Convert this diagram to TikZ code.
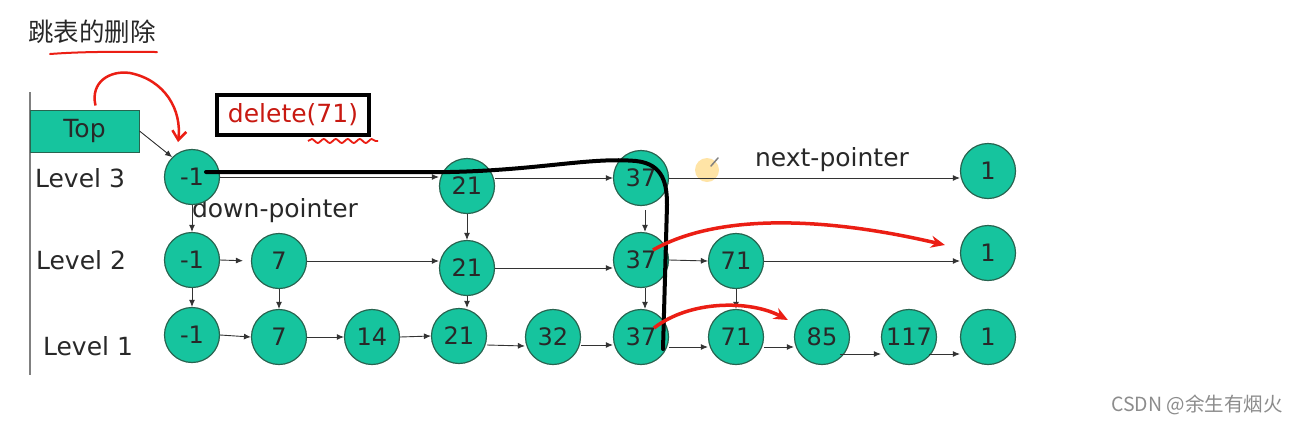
\documentclass[tikz,border=0pt]{standalone}
\usepackage{fontspec}
\setmainfont{DejaVu Sans}
\newfontfamily\cjk{Noto Sans CJK SC}
\usetikzlibrary{arrows.meta,calc,decorations.pathmorphing}
\definecolor{nodegreen}{RGB}{22,196,158}
\definecolor{nodeborder}{RGB}{40,100,80}
\definecolor{redpen}{RGB}{235,30,20}
\definecolor{txtgray}{RGB}{40,40,40}
\tikzset{
  sknode/.style={circle,draw=nodeborder,line width=1.2pt,fill=nodegreen,minimum size=55pt,inner sep=0pt,
    font=\fontsize{24}{28}\selectfont,text=txtgray},
  arr/.style={-{Latex[length=7pt,width=6pt]},line width=0.9pt,draw=black!80},
  lvl/.style={font=\fontsize{25}{29}\selectfont,text=txtgray},
  redarrow/.style={line width=3.5pt,draw=redpen,-{Stealth[length=14pt,width=12pt]}},
  blackpath/.style={line width=4pt,draw=black,line cap=round,line join=round},
}
\begin{document}
\begin{tikzpicture}[x=1pt,y=-1pt]
\useasboundingbox (0,0) rectangle (1299,424);
\fill[white] (0,0) rectangle (1299,424);
% title
\node[font=\cjk\fontsize{25.5}{28}\selectfont,text=txtgray,anchor=center] (title) at (92,32) {跳表的删除};
\draw[redpen,line width=2pt,line cap=round] (50,54) .. controls (90,51) and (130,52) .. (157,52);
% vertical axis line
\draw[gray,line width=1.5pt] (30,92) -- (30,375);
% Top box
\node[draw=nodeborder,line width=1pt,fill=nodegreen,minimum width=109pt,minimum height=42pt,inner sep=0pt,
  font=\fontsize{25}{29}\selectfont,text=txtgray] (top) at (84.5,131) {Top};
% delete box
\node[draw=black,line width=4pt,minimum width=152pt,minimum height=40pt,inner sep=0pt,
  font=\fontsize{25}{29}\selectfont,text=redpen!85!black] (del) at (293,115) {delete(71)};
\draw[redpen,line width=1.8pt,decorate,decoration={snake,amplitude=2pt,segment length=12pt}] (308,141) -- (378,141);
% level labels
\node[lvl] (lv3) at (80,178) {Level 3};
\node[lvl] (lv2) at (81,260) {Level 2};
\node[lvl] (lv1) at (88,346) {Level 1};
% pointer labels
\node[lvl] (dp) at (275,211) {down-pointer};
\node[lvl] (np) at (832,160) {next-pointer};
% pencil marker
\fill[orange!60!yellow,opacity=0.35] (707,170) circle (12);
\draw[gray,line width=1.5pt,line cap=round] (711,166) -- (718,158);
% Level 3
\node[sknode] (n3a) at (192,177) {-1};
\node[sknode] (n3b) at (467,186) {21};
\node[sknode] (n3c) at (641,178) {37};
\node[sknode] (n3d) at (988,171) {1};
% Level 2
\node[sknode] (n2a) at (192,260) {-1};
\node[sknode] (n2b) at (279,261) {7};
\node[sknode] (n2c) at (467,268) {21};
\node[sknode] (n2d) at (641,260) {37};
\node[sknode] (n2e) at (736,261) {71};
\node[sknode] (n2f) at (988,253) {1};
% Level 1
\node[sknode] (n1a) at (192,335) {-1};
\node[sknode] (n1b) at (279,337) {7};
\node[sknode] (n1c) at (372,337) {14};
\node[sknode] (n1d) at (459,336) {21};
\node[sknode] (n1e) at (553,337) {32};
\node[sknode] (n1f) at (641,337) {37};
\node[sknode] (n1g) at (736,337) {71};
\node[sknode] (n1h) at (822,337) {85};
\node[sknode] (n1i) at (909,337) {117};
\node[sknode] (n1j) at (988,337) {1};
% Top -> -1
\draw[arr] (top.east) -- (n3a.north west);
% level 3 next pointers
\draw[arr] (n3a.east) -- (n3a.east -| n3b.west);
\draw[arr] (n3b.east |- n3c.west) -- (n3c.west);
\draw[arr] (n3c.east) -- (n3c.east -| n3d.west);
% level 2 next pointers
\draw[arr,shorten >=8pt] (n2a.east) -- (n2b.west);
\draw[arr] (n2b.east) -- (n2b.east -| n2c.west);
\draw[arr] (n2c.east) -- (n2c.east -| n2d.west);
\draw[arr] (n2d.east) -- (n2e.west);
\draw[arr] (n2e.east) -- (n2e.east -| n2f.west);
% level 1 next pointers
\draw[arr] (n1a.east) -- (n1b.west);
\draw[arr] (n1b.east) -- (n1c.west);
\draw[arr] (n1c.east) -- (n1d.west);
\draw[arr] ([yshift=-9pt]n1d.east) -- ([yshift=-9pt]n1e.west);
\draw[arr] ([yshift=-8pt]n1e.east) -- ([yshift=-8pt]n1f.west);
\draw[arr] ([yshift=-10pt]n1f.east) -- ([yshift=-10pt]n1g.west);
\draw[arr] ([yshift=-10pt]n1g.east) -- ([yshift=-10pt]n1h.west);
\draw[arr] ([xshift=-10pt,yshift=-17pt]n1h.east) -- ([yshift=-17pt]n1i.west);
\draw[arr] ([xshift=-8pt,yshift=-17pt]n1i.east) -- ([yshift=-17pt]n1j.west);
% down pointers
\draw[arr] (n3a.south) -- (n2a.north);
\draw[arr] (n3b.south) -- (n2c.north);
\draw[arr] ([xshift=4pt,yshift=-4pt]n3c.south) -- ([xshift=4pt]n2d.north);
\draw[arr] (n2a.south) -- (n1a.north);
\draw[arr] (n2b.south) -- (n1b.north);
\draw[arr] (n2c.south) -- (n2c.south |- n1d.north);
\draw[arr] ([xshift=4pt]n2d.south) -- ([xshift=4pt]n1f.north);
\draw[arr] (n2e.south) -- (n1g.north);
% black search path
\coordinate (bstart) at ($(n3a.center)+(14,-5)$);
\coordinate (bend) at ($(n1f.center)+(22,12)$);
\draw[blackpath] (bstart) -- (450,172) .. controls (540,170) and (590,157) .. (636,161)
   .. controls (664,164) and (667,185) .. (667,205) -- (bend);
% red annotation arrows
\coordinate (topstart) at ($(top.north)+(11,-4)$);
\draw[line width=2.5pt,draw=redpen,-{Straight Barb[length=9pt,width=14pt]}] (topstart)
  .. controls (90,82) and (110,70) .. (130,73) .. controls (165,80) and (182,110) .. (178,142);
\draw[redarrow] ($(n2d.center)+(12,-10)$) .. controls (720,212) and (830,218) .. ($(n2f.west)+(-15,-8)$);
\draw[redarrow] ($(n1f.center)+(13,-9)$) .. controls (690,300) and (750,300) .. ($(n1h.west)+(-6,-17)$);
% watermark
\node[font=\cjk\fontsize{19.5}{22}\selectfont,text=black!45] (wm) at (1197,405) {CSDN @余生有烟火};
\end{tikzpicture}
\end{document}
